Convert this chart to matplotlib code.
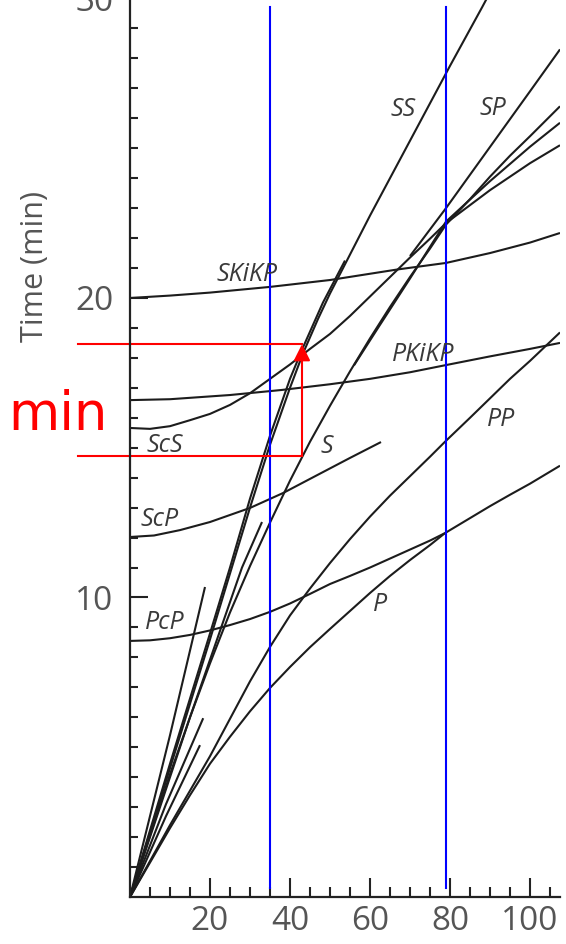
import matplotlib.pyplot as plt
import numpy as np

# distance (deg) / travel time (min)
p_dist = [0, 5, 10, 15, 20, 25, 30, 35, 40, 45, 50, 55, 60, 65, 70, 75, 78.75, 85, 90, 95, 100, 107.5]
p_time = [0, 1.15, 2.3, 3.4, 4.45, 5.35, 6.2, 6.98, 7.68, 8.34, 8.95, 9.55, 10.15, 10.72,
          11.25, 11.75, 12.15, 12.65, 13.05, 13.43, 13.8, 14.4]

pcp_dist = [0, 5, 10, 15, 20, 25, 30, 35, 40, 45, 50, 55, 60, 65, 70, 75, 78.75]
pcp_time = [8.55, 8.57, 8.64, 8.75, 8.9, 9.08, 9.28, 9.52, 9.8, 10.12, 10.45, 10.72, 11.0,
            11.3, 11.6, 11.9, 12.15]

pp_dist = [0, 5, 10, 15, 20, 25, 30, 35, 40, 45, 50, 55, 60, 65, 70, 75, 78.75, 85, 90, 95, 100, 107.5]
pp_time = [0, 1.2, 2.4, 3.55, 4.7, 5.95, 7.2, 8.35, 9.4, 10.3, 11.15, 11.95, 12.7, 13.4,
           14.05, 14.7, 15.2, 16.0, 16.65, 17.3, 17.9, 18.85]

scp_dist = [0, 6, 12.5, 20, 30, 38.3, 47, 55, 62.75]
scp_time = [12.02, 12.07, 12.25, 12.52, 12.99, 13.49, 14.1, 14.66, 15.19]

scs_dist = [0, 5, 10, 15, 20, 25, 30, 35, 40, 45, 50, 55, 60, 65, 70, 75, 79, 85, 90, 95, 100, 107.5]
scs_time = [15.66, 15.63, 15.72, 15.92, 16.13, 16.43, 16.82, 17.3, 17.78, 18.3, 18.8, 19.4,
            20.05, 20.7, 21.35, 21.98, 22.5, 23.1, 23.6, 24.05, 24.5, 25.1]

s_dist = [0, 5, 10, 15, 20, 25, 30, 35, 40, 45, 50, 55, 60, 65, 70, 75, 79, 85, 90, 95, 100, 107.5]
s_time = [0, 2.05, 4.1, 6.0, 7.8, 9.5, 11.05, 12.5, 13.9, 15.2, 16.4, 17.55, 18.65, 19.7,
          20.7, 21.65, 22.45, 23.3, 24.05, 24.75, 25.4, 26.4]

s2_dist = [56, 62, 70, 79, 90, 100, 107.5]
s2_time = [17.75, 19.0, 20.65, 22.55, 23.9, 25.05, 25.85]

ss_dist = [0, 10, 20, 25, 30, 35, 40, 43.25, 47, 50, 55, 60, 70, 80, 88, 92]
ss_time = [0, 4.3, 8.6, 10.8, 13.0, 15.1, 17.0, 18.15, 19.3, 20.15, 21.45, 22.75, 25.25,
           27.75, 29.7, 30.7]

ss2_dist = [0, 10, 20, 25, 30, 35, 40, 43.25, 48.25, 53.75]
ss2_time = [0, 4.45, 8.8, 11.0, 13.3, 15.4, 17.3, 18.35, 19.85, 21.25]

sp_dist = [70, 79, 86, 93, 100, 107.5]
sp_time = [21.4, 23.0, 24.3, 25.6, 26.9, 28.3]

pkikp_dist = [0, 10, 25, 38, 50, 60, 70, 79, 90, 100, 107.5]
pkikp_time = [16.59, 16.62, 16.76, 16.93, 17.12, 17.3, 17.52, 17.76, 18.05, 18.3, 18.5]

skikp_dist = [0, 10, 20, 35, 50, 66.75, 79, 90, 100, 107.5]
skikp_time = [20.0, 20.08, 20.18, 20.37, 20.6, 20.95, 21.17, 21.5, 21.85, 22.17]

# short branches near the source
branch_p1 = ([0, 9, 18.3], [0, 3.1, 5.97])
branch_p2 = ([0, 9, 17.5], [0, 2.7, 5.07])
branch_s1 = ([0, 10, 18.75], [0, 5.4, 10.35])
branch_s2 = ([0, 15, 28, 33], [0, 6.0, 11.0, 12.52])

labels = ["SS", "SP", "SKiKP", "PKiKP", "ScS", "S", "PP", "ScP", "PcP", "P"]
label_x = [68.25, 90.75, 29.25, 73.25, 8.75, 49.25, 92.75, 7.5, 8.75, 62.5]
label_y = [26.28, 26.34, 20.8, 18.1, 15.09, 15.03, 15.93, 12.59, 9.18, 9.75]

box_top = 18.46
box_bottom = 14.72
box_x = 43
marks_x = [35, 79]

fig = plt.figure(figsize=(5.66, 9.44), dpi=100)
ax = fig.add_axes([130 / 566, 47 / 944, 430 / 566, 913.5 / 944])
ax.set_xlim(0, 107.5)
ax.set_ylim(0, 30.5)

curve_color = "#1c1c1c"
curves = [
    (p_dist, p_time), (pcp_dist, pcp_time), (pp_dist, pp_time),
    (scp_dist, scp_time), (scs_dist, scs_time), (s_dist, s_time),
    (s2_dist, s2_time), (ss_dist, ss_time), (ss2_dist, ss2_time),
    (sp_dist, sp_time), (pkikp_dist, pkikp_time), (skikp_dist, skikp_time),
    branch_p1, branch_p2, branch_s1, branch_s2,
]
for d, t in curves:
    ax.plot(d, t, color=curve_color, lw=1.5, solid_capstyle="butt", solid_joinstyle="round")

for name, x, y in zip(labels, label_x, label_y):
    ax.text(x, y, name, fontsize=18, style="italic", color="#3a3a3a",
            family="Open Sans", ha="center", va="center")

# axes styling
for side in ["top", "right"]:
    ax.spines[side].set_visible(False)
for side in ["left", "bottom"]:
    ax.spines[side].set_linewidth(1.6)
    ax.spines[side].set_color("#222222")

ax.set_xticks([20, 40, 60, 80, 100])
ax.set_xticks(np.arange(5, 107, 5), minor=True)
ax.set_yticks([10, 20, 30])
ax.set_yticks(np.arange(1, 30, 1), minor=True)
ax.tick_params(axis="both", which="both", direction="in", color="#222222", width=1.5)
ax.tick_params(axis="y", which="major", length=13, pad=12)
ax.tick_params(axis="y", which="minor", length=6)
ax.tick_params(axis="x", which="major", length=14, pad=6)
ax.tick_params(axis="x", which="minor", length=7)
for lab in ax.get_xticklabels() + ax.get_yticklabels():
    lab.set_fontsize(24)
    lab.set_color("#555555")
    lab.set_family("Open Sans")

ax.set_ylabel("Time (min)", fontsize=22, color="#555555", family="Open Sans")
ax.yaxis.set_label_coords(-0.186, 0.69)

# blue marker lines
for mx in marks_x:
    ax.plot([mx, mx], [0.3, 29.7], color="#0000ff", lw=1.5, clip_on=False)

# red annotation
ax.plot([-13, box_x], [box_top, box_top], color="red", lw=1.5, clip_on=False)
ax.plot([-13, box_x], [box_bottom, box_bottom], color="red", lw=1.5, clip_on=False)
ax.annotate("", xy=(box_x, box_top), xytext=(box_x, box_bottom),
            arrowprops=dict(arrowstyle="-|>", color="red", lw=1.5,
                            mutation_scale=25, shrinkA=0, shrinkB=0))
fig.text(58 / 566, 1 - 415 / 944, "min", color="red", fontsize=38,
         ha="center", va="center")

fig.savefig("out.png", dpi=100)
